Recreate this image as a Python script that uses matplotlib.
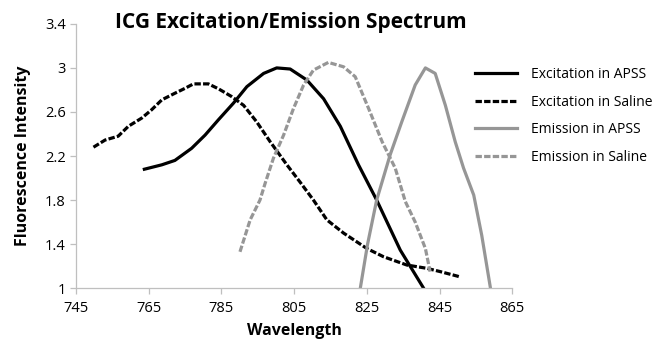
import matplotlib
matplotlib.use("Agg")
import matplotlib.pyplot as plt
from matplotlib.ticker import FormatStrFormatter

plt.rcParams["font.family"] = ["Open Sans", "DejaVu Sans"]

# Excitation in APSS
exc_apss_x = [763.8, 768.6, 772.2, 776.8, 780.5, 784.2, 788.3, 792, 796.6, 800.2,
              803.9, 808.5, 813.1, 817.7, 822.7, 827.7, 834.2, 840.6]
exc_apss_y = [2.08, 2.12, 2.16, 2.27, 2.39, 2.53, 2.68, 2.83, 2.95, 3.0,
              2.99, 2.89, 2.72, 2.47, 2.12, 1.80, 1.345, 1.0]

# Excitation in Saline
exc_sal_x = [749.8, 753, 756.6, 759.4, 763.1, 765.8, 768.6, 772.2, 775, 777.3,
             781.4, 784.2, 787.8, 791.1, 794.7, 798.4, 803, 806.7, 810.3, 814,
             818.6, 825, 829.6, 836, 841.5, 845.2, 849.8, 850.8]
exc_sal_y = [2.28, 2.345, 2.38, 2.47, 2.545, 2.62, 2.71, 2.77, 2.815, 2.855,
             2.855, 2.81, 2.74, 2.66, 2.51, 2.33, 2.12, 1.96, 1.80, 1.62,
             1.50, 1.36, 1.285, 1.21, 1.18, 1.15, 1.11, 1.10]

# Emission in APSS
em_apss_x = [823.2, 825.2, 827.7, 831.4, 834.6, 838.3, 841.1, 843.8, 846.6,
             849.3, 851.6, 854.4, 856.6, 859]
em_apss_y = [1.0, 1.40, 1.80, 2.21, 2.51, 2.845, 3.0, 2.95, 2.66,
             2.33, 2.09, 1.845, 1.48, 1.0]

# Emission in Saline
em_sal_x = [790.1, 792.9, 795.6, 797, 799.3, 802.1, 804.8, 807.6, 810.3, 814.4,
            818.6, 821.8, 825.5, 829.2, 832.8, 835.6, 838.3, 841.1, 842.4]
em_sal_y = [1.33, 1.62, 1.80, 1.95, 2.18, 2.39, 2.63, 2.845, 2.98, 3.05,
            3.01, 2.92, 2.63, 2.33, 2.09, 1.785, 1.60, 1.36, 1.15]

x_ticks = [745, 765, 785, 805, 825, 845, 865]
y_ticks = [1, 1.4, 1.8, 2.2, 2.6, 3, 3.4]

fig = plt.figure(figsize=(6.61, 3.41), dpi=100)
ax = fig.add_axes([0.115, 0.155, 0.66, 0.775])

dash = (2.0, 0.7)
grey = "#969696"
style = dict(lw=2.3, solid_joinstyle="round", dash_joinstyle="round")
ax.plot(exc_apss_x, exc_apss_y, color="black", label="Excitation in APSS", **style)
ax.plot(exc_sal_x, exc_sal_y, color="black", dashes=dash, label="Excitation in Saline", **style)
ax.plot(em_apss_x, em_apss_y, color=grey, label="Emission in APSS", **style)
ax.plot(em_sal_x, em_sal_y, color=grey, dashes=dash, label="Emission in Saline", **style)

ax.set_xlim(745, 865)
ax.set_ylim(1, 3.4)
ax.set_xticks(x_ticks)
ax.set_yticks(y_ticks)
ax.yaxis.set_major_formatter(FormatStrFormatter("%g"))
for s in ["top", "right"]:
    ax.spines[s].set_visible(False)
for s in ["left", "bottom"]:
    ax.spines[s].set_color("#BFBFBF")
    ax.spines[s].set_linewidth(0.9)
ax.tick_params(colors="#BFBFBF", labelcolor="black", labelsize=10.5, length=4, width=0.9)
ax.tick_params(axis="x", pad=5)

ax.set_xlabel("Wavelength", fontsize=11.5, fontweight="bold", labelpad=5)
ax.set_ylabel("Fluorescence Intensity", fontsize=11.5, fontweight="bold", labelpad=10)
fig.text(0.44, 0.935, "ICG Excitation/Emission Spectrum", fontsize=15,
         fontweight="bold", ha="center", va="center")

fig.legend(loc="upper left", bbox_to_anchor=(0.7, 0.84), frameon=False,
           fontsize=10, handlelength=3, labelspacing=0.9, handletextpad=1.0)

fig.savefig("out.png", dpi=100)
